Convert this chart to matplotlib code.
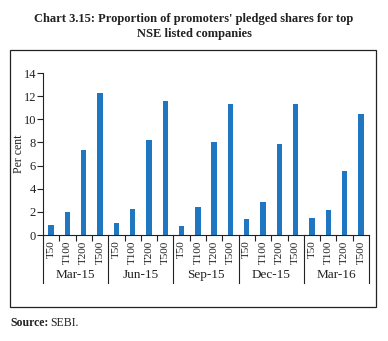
import matplotlib
matplotlib.use("Agg")
import matplotlib.pyplot as plt
from matplotlib.transforms import blended_transform_factory
from matplotlib.patches import Rectangle

groups = ["Mar-15", "Jun-15", "Sep-15", "Dec-15", "Mar-16"]
subcats = ["T50", "T100", "T200", "T500"]
values = {
    "Mar-15": [0.87, 1.96, 7.33, 12.24],
    "Jun-15": [1.04, 2.22, 8.2, 11.6],
    "Sep-15": [0.81, 2.39, 8.04, 11.32],
    "Dec-15": [1.36, 2.82, 7.83, 11.29],
    "Mar-16": [1.44, 2.19, 5.53, 10.49],
}

plt.rcParams['font.family'] = ['Liberation Serif', 'DejaVu Serif']
W, H = 388, 341
fig = plt.figure(figsize=(W/100, H/100), dpi=100)
ax = fig.add_axes([43/W, 1-235/H, (369-43)/W, (235-73)/H])

xs, ys, labels = [], [], []
i = 0
for g in groups:
    for j, s in enumerate(subcats):
        xs.append(i); ys.append(values[g][j]); labels.append(s)
        i += 1
ax.bar(xs, ys, width=0.33, color="#1f77c2")
ax.set_xlim(-0.5, len(xs)-0.5)
ax.set_ylim(0, 14)
ax.set_yticks(range(0, 15, 2))
ax.tick_params(axis='y', labelsize=9, length=4, width=0.8, pad=1, colors="#222222")
ax.set_ylabel("Per cent", fontsize=8.5, color="#222222")
ax.yaxis.set_label_coords(-(43-25)/(369-43), 0.5)
for sp in ["top", "right"]:
    ax.spines[sp].set_visible(False)
for sp in ["left", "bottom"]:
    ax.spines[sp].set_linewidth(0.8)
    ax.spines[sp].set_color("#222222")

ax.set_xticks(xs)
ax.set_xticklabels(labels, rotation=90, fontsize=8, color="#222222")
ax.tick_params(axis='x', length=0, pad=4)
minor = [k + 0.5 for k in range(len(xs)-1) if (k+1) % 4 != 0]
ax.set_xticks(minor, minor=True)
ax.tick_params(axis='x', which='minor', length=4, width=0.8, color="#222222")

trans = blended_transform_factory(ax.transData, ax.transAxes)
axh = (235-73)
for gi, g in enumerate(groups):
    xb = gi*4 - 0.5
    ax.plot([xb, xb], [0, -48/axh], transform=trans, color="#222222", lw=0.8, clip_on=False)
    ax.text(gi*4 + 1.5, -46/axh, g, transform=trans, ha='center', va='bottom',
            fontsize=9.5, color="#222222")
xb = len(groups)*4 - 0.5
ax.plot([xb, xb], [0, -48/axh], transform=trans, color="#222222", lw=0.8, clip_on=False)

fig.patches.append(Rectangle((10/W, 1-307/H), (376-10)/W, (307-50)/H, transform=fig.transFigure,
                             fill=False, edgecolor="#222222", lw=0.9))
fig.text(0.5, 1-13/H, "Chart 3.15: Proportion of promoters' pledged shares for top\nNSE listed companies",
         ha='center', va='top', fontsize=9, fontweight='bold', color="#222222", linespacing=1.3)
fig.text(10/W, 1-323/H, "Source:", ha='left', va='center', fontsize=8.5, fontweight='bold', color="#222222")
fig.text(50/W, 1-323/H, "SEBI.", ha='left', va='center', fontsize=8.5, color="#222222")

fig.savefig("out.png", dpi=100)
